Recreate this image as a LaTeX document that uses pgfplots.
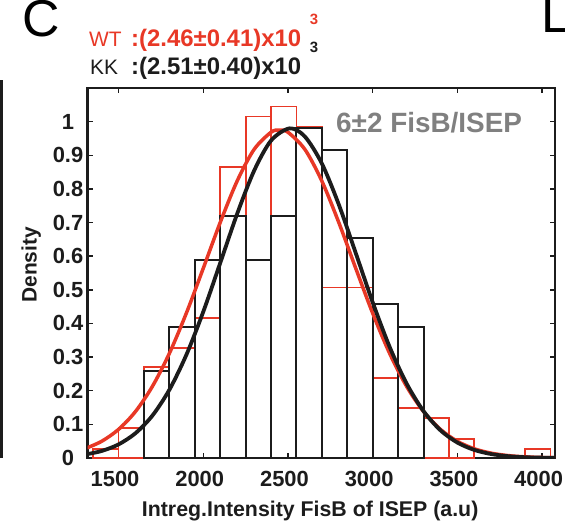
\documentclass[border=0pt]{standalone}
\usepackage{pgfplots}
\pgfplotsset{compat=1.18}
\usepackage{fontspec}
\setmainfont{Liberation Sans}
\definecolor{wtred}{RGB}{232,56,38}
\definecolor{kkblack}{RGB}{28,28,28}
\definecolor{txtgray}{RGB}{128,128,128}
\begin{document}
\begin{tikzpicture}
\begin{axis}[
  at={(0,0)}, anchor=south west,
  scale only axis, width=467.3bp, height=370bp,
  xmin=1318, xmax=4076, ymin=0, ymax=1.1,
  xtick={1500,2000,2500,3000,3500,4000},
  xticklabels={1500,2000,2500,3000,3500,4000},
  ytick={0,0.1,0.2,0.3,0.4,0.5,0.6,0.7,0.8,0.9,1},
  yticklabels={0,0.1,0.2,0.3,0.4,0.5,0.6,0.7,0.8,0.9,1},
  tick align=inside, major tick length=5bp,
  xtick pos=both, ytick pos=both,
  axis line style={line width=2.4bp, draw=kkblack},
  every tick/.style={line width=1.4bp, draw=kkblack},
  tick label style={font=\fontsize{22}{22}\selectfont\bfseries, text=kkblack},
  xticklabel style={anchor=base, yshift=-28.7bp, xshift=-3.5bp},
  yticklabel style={anchor=center, xshift=-19.7bp},
  ylabel={Density},
  ylabel style={at={(axis description cs:-0.121,0.522)}, anchor=center, font=\fontsize{21}{21}\selectfont\bfseries, text=kkblack},
  xlabel={Intreg.Intensity FisB of ISEP (a.u)},
  xlabel style={at={(axis description cs:0.476,-0.159)}, anchor=base, font=\fontsize{21.4}{21.4}\selectfont\bfseries, text=kkblack},
]
% WT histogram (red outlines)
\addplot[ybar interval, draw=wtred, line width=1.8bp, fill=none] coordinates {
(1350,0.026)(1500,0.089)(1650,0.270)(1800,0.327)(1950,0.416)(2100,0.866)
(2250,1.015)(2400,1.045)(2550,0.985)(2700,0.507)(2850,0.507)(3000,0.237)
(3150,0.148)(3300,0.119)(3450,0.056)(3600,0)};
\addplot[ybar interval, draw=wtred, line width=1.8bp, fill=none] coordinates {
(3900,0.027)(4050,0)};
% KK histogram (black outlines)
\addplot[ybar interval, draw=kkblack, line width=2bp, fill=none] coordinates {
(1650,0.260)(1800,0.390)(1950,0.588)(2100,0.718)(2250,0.588)(2400,0.718)
(2550,0.980)(2700,0.917)(2850,0.653)(3000,0.457)(3150,0.389)(3300,0)};
% WT fit
\addplot[wtred, line width=3.5bp, smooth] coordinates {
(1300,0.0273)(1400,0.0495)(1500,0.0850)(1600,0.1382)(1700,0.2130)(1800,0.3110)
(1900,0.4303)(2000,0.5639)(2100,0.7001)(2200,0.8234)(2300,0.9174)(2400,0.9684)
(2450,0.9750)(2500,0.9684)(2600,0.9174)(2700,0.8234)(2800,0.7001)(2900,0.5639)
(3000,0.4303)(3100,0.3110)(3200,0.2130)(3300,0.1382)(3400,0.0850)(3500,0.0495)
(3600,0.0273)(3700,0.0143)(3800,0.0071)(3900,0.0033)(4000,0.0015)(4100,0.0006)};
% KK fit
\addplot[kkblack, line width=3.8bp, smooth] coordinates {
(1300,0.0101)(1400,0.0208)(1500,0.0404)(1600,0.0737)(1700,0.1261)(1800,0.2028)
(1900,0.3063)(2000,0.4347)(2100,0.5796)(2200,0.7258)(2300,0.8539)(2400,0.9436)
(2510,0.9800)(2600,0.9555)(2700,0.8754)(2800,0.7535)(2900,0.6093)
(3000,0.4628)(3100,0.3303)(3200,0.2214)(3300,0.1394)(3400,0.0824)(3500,0.0458)
(3600,0.0239)(3700,0.0117)(3800,0.0054)(3900,0.0023)(4000,0.0010)(4100,0.0004)};
\end{axis}
% panel letters
\node[anchor=base west, inner sep=0, font=\fontsize{52}{52}\selectfont, text=black] at (-65.3bp,421bp) {C};
\node[anchor=base west, inner sep=0, font=\fontsize{52}{52}\selectfont, text=black] at (453.3bp,425bp) {L};
% left border line
\draw[line width=3bp, kkblack] (-86.2bp,0bp) -- (-86.2bp,378bp);
% title lines
\node[anchor=base west, inner sep=0, text=wtred, font=\fontsize{21}{21}\selectfont] at (1.3bp,411bp) {WT};
\node[anchor=base west, inner sep=0, text=wtred, font=\fontsize{24}{24}\selectfont\bfseries] at (43.3bp,411bp) {:(2.46±0.41)x10};
\node[anchor=base west, inner sep=0, text=wtred, font=\fontsize{15}{15}\selectfont\bfseries] at (222bp,433bp) {3};
\node[anchor=base west, inner sep=0, text=kkblack, font=\fontsize{21}{21}\selectfont] at (2.3bp,383bp) {KK};
\node[anchor=base west, inner sep=0, text=kkblack, font=\fontsize{24}{24}\selectfont\bfseries] at (43.3bp,383bp) {:(2.51±0.40)x10};
\node[anchor=base west, inner sep=0, text=kkblack, font=\fontsize{15}{15}\selectfont\bfseries] at (222bp,405bp) {3};
% annotation
\node[anchor=base west, inner sep=0, text=txtgray, font=\fontsize{28}{28}\selectfont\bfseries] at (248.3bp,325bp) {6±2 FisB/ISEP};
\pgfresetboundingbox
\path[use as bounding box] (-87.7bp,-71bp) rectangle (477.3bp,458bp);
\end{tikzpicture}
\end{document}
